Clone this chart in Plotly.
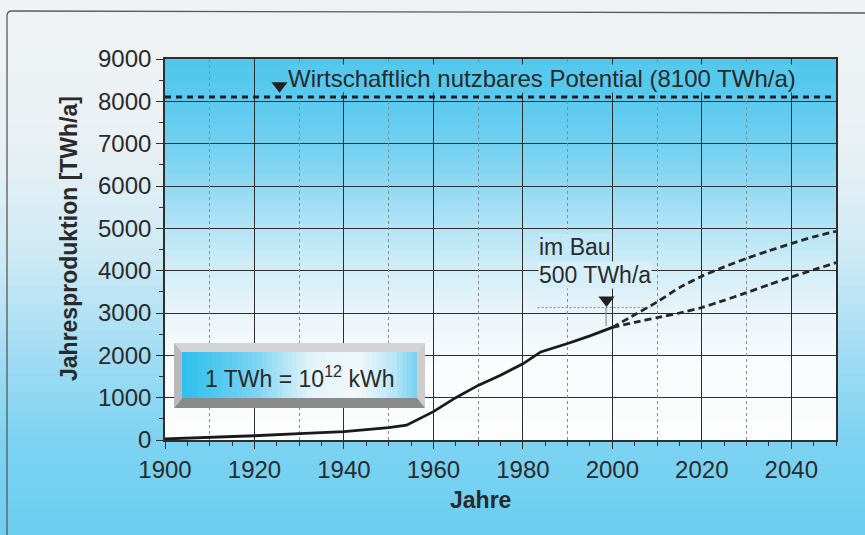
import plotly.graph_objects as go

# ---------------- data ----------------
years_hist = [1900, 1910, 1920, 1930, 1940, 1950, 1954, 1960, 1965, 1970, 1975, 1980, 1984, 1990, 1995, 2000]
prod_hist = [25, 55, 100, 150, 200, 290, 350, 670, 1000, 1290, 1530, 1800, 2080, 2280, 2460, 2660]

years_high = [2000, 2005, 2010, 2015, 2020, 2025, 2030, 2035, 2040, 2045, 2050]
prod_high = [2660, 2960, 3260, 3600, 3870, 4090, 4290, 4470, 4640, 4800, 4930]

years_low = [2000, 2005, 2010, 2015, 2020, 2025, 2030, 2035, 2040, 2045, 2050]
prod_low = [2660, 2780, 2890, 3000, 3130, 3300, 3480, 3670, 3850, 4020, 4190]

potential_years = [1900, 2050]
potential_value = [8100, 8100]

marker_years = [1925.6, 1998.7]
marker_values = [8370, 3310]

bau_ref_years = [1983.3, 2008.5]
bau_ref_values = [3130, 3130]
bau_drop_years = [1998.6, 1998.6]
bau_drop_values = [3130, 2690]

potential_label = "Wirtschaftlich nutzbares Potential (8100 TWh/a)"
bau_label_1 = "im Bau"
bau_label_2 = "500 TWh/a"
unit_label = "1 TWh = 10<sup>12</sup> kWh"
x_title = "Jahre"
y_title = "Jahresproduktion [TWh/a]"

# ---------------- styling helpers ----------------
W, H = 865, 535
ML, MR, MT, MB = 165, 29, 59, 95
PW, PH = W - ML - MR, H - MT - MB
FONT = "Liberation Sans, Arial, Helvetica, sans-serif"
TXT = "#2a2a2a"
GRID = "#2e2e2e"


def P(px, py):
    """pixel position on the page -> paper (plot-area relative) coordinates"""
    return (px - ML) / PW, (H - MB - py) / PH


def interp(stops, t):
    if t <= stops[0][0]:
        return stops[0][1]
    for (p0, c0), (p1, c1) in zip(stops[:-1], stops[1:]):
        if p0 <= t <= p1:
            f = (t - p0) / (p1 - p0) if p1 > p0 else 0
            return tuple(round(a + (b - a) * f) for a, b in zip(c0, c1))
    return stops[-1][1]


def rgb(c):
    return "rgb(%d,%d,%d)" % c


# page background (by pixel row from top)
paper_stops = [(0, (240, 242, 243)), (140, (234, 241, 244)), (260, (205, 233, 245)),
               (360, (160, 220, 243)), (440, (125, 211, 241)), (535, (108, 206, 240))]
# plot area background (by domain fraction from bottom)
plot_stops = [(0.0, (252, 253, 253)), (0.2, (250, 252, 253)), (0.32, (236, 246, 250)),
              (0.45, (210, 237, 248)), (0.58, (172, 225, 245)), (0.72, (128, 212, 241)),
              (0.86, (96, 203, 238)), (1.0, (80, 198, 236))]

shapes = []
N = 60
left, _ = P(0, 0)
right, _ = P(W, 0)
for i in range(N):
    pa = H * i / N
    pb = H * (i + 1) / N + 1
    _, ya = P(0, pa)
    _, yb = P(0, pb)
    shapes.append(dict(type="rect", xref="paper", yref="paper", x0=left, x1=right, y0=yb, y1=ya,
                       fillcolor=rgb(interp(paper_stops, (pa + pb) / 2)), line=dict(width=0),
                       layer="below"))
N2 = 60
for i in range(N2):
    y0 = i / N2
    y1 = (i + 1) / N2
    shapes.append(dict(type="rect", xref="x domain", yref="y domain", x0=0, x1=1, y0=y0,
                       y1=min(1, y1 + 0.003), fillcolor=rgb(interp(plot_stops, (y0 + y1) / 2)),
                       line=dict(width=0), layer="below"))


def path(points):
    s = ""
    for k, (px, py) in enumerate(points):
        x, y = P(px, py)
        s += ("M" if k == 0 else "L") + " %.5f %.5f " % (x, y)
    return s + "Z"


# frame line around the page
fx0, fy0 = P(7, 535)
fx1, fy1 = P(7, 16)
fqx, fqy = P(7, 11)
fx2, fy2 = P(12, 11)
fx3, fy3 = P(865, 13)
shapes.append(dict(type="path", xref="paper", yref="paper",
                   path="M %.5f %.5f L %.5f %.5f Q %.5f %.5f %.5f %.5f L %.5f %.5f" %
                   (fx0, fy0, fx1, fy1, fqx, fqy, fx2, fy2, fx3, fy3),
                   line=dict(color="#5a5a5a", width=1.3)))

# bevelled unit box
bx0, bx1, by0, by1 = 174, 425, 343, 408
ix0, ix1, iy0, iy1 = 182, 417, 352, 398
shapes.append(dict(type="path", xref="paper", yref="paper",
                   path=path([(bx0, by0), (bx1, by0), (ix1, iy0), (ix0, iy0)]),
                   fillcolor="#d4d4d4", line=dict(width=0)))
shapes.append(dict(type="path", xref="paper", yref="paper",
                   path=path([(bx1, by0), (bx1, by1), (ix1, iy1), (ix1, iy0)]),
                   fillcolor="#cdcdcd", line=dict(width=0)))
shapes.append(dict(type="path", xref="paper", yref="paper",
                   path=path([(bx0, by1), (bx1, by1), (ix1, iy1), (ix0, iy1)]),
                   fillcolor="#8a8a8a", line=dict(width=0)))
shapes.append(dict(type="path", xref="paper", yref="paper",
                   path=path([(bx0, by0), (ix0, iy0), (ix0, iy1), (bx0, by1)]),
                   fillcolor="#b9b9b9", line=dict(width=0)))
box_stops = [(0.0, (45, 190, 238)), (0.3, (118, 210, 242)), (0.55, (228, 244, 249)),
             (0.75, (240, 248, 251)), (0.9, (185, 230, 246)), (1.0, (118, 210, 242))]
NS = 47
for i in range(NS):
    xa = ix0 + (ix1 - ix0) * i / NS
    xb = ix0 + (ix1 - ix0) * (i + 1) / NS + 0.6
    shapes.append(dict(type="path", xref="paper", yref="paper",
                       path=path([(xa, iy0), (min(xb, ix1), iy0), (min(xb, ix1), iy1), (xa, iy1)]),
                       fillcolor=rgb(interp(box_stops, (i + 0.5) / NS)), line=dict(width=0)))

# ---------------- traces ----------------
fig = go.Figure()
fig.add_trace(go.Scatter(x=potential_years, y=potential_value, xaxis="x2", mode="lines",
                         line=dict(width=0), opacity=0, hoverinfo="skip", showlegend=False))
fig.add_trace(go.Scatter(x=bau_ref_years, y=bau_ref_values, mode="lines",
                         line=dict(color="#8a8a8a", width=1, dash="2px,2px"), showlegend=False))
fig.add_trace(go.Scatter(x=bau_drop_years, y=bau_drop_values, mode="lines",
                         line=dict(color="#7a7a7a", width=1), showlegend=False))
fig.add_trace(go.Scatter(x=potential_years, y=potential_value, mode="lines",
                         line=dict(color="#1e1e1e", width=3, dash="6px,5px"), showlegend=False,
                         cliponaxis=False))
fig.add_trace(go.Scatter(x=years_high, y=prod_high, mode="lines",
                         line=dict(color="#262626", width=2.8, dash="7px,4px", shape="spline",
                                   smoothing=0.6), showlegend=False))
fig.add_trace(go.Scatter(x=years_low, y=prod_low, mode="lines",
                         line=dict(color="#262626", width=2.8, dash="7px,4px", shape="spline",
                                   smoothing=0.6), showlegend=False))
fig.add_trace(go.Scatter(x=years_hist, y=prod_hist, mode="lines",
                         line=dict(color="#1a1a1a", width=2.8), showlegend=False))
fig.add_trace(go.Scatter(x=marker_years, y=marker_values, mode="markers",
                         marker=dict(symbol="triangle-down", size=14, color="#222222"),
                         showlegend=False, cliponaxis=False))


# ---------------- annotations ----------------
def bg_at(value):
    return rgb(interp(plot_stops, value / 9000))


annotations = [
    dict(x=1927.2, y=8197, xref="x", yref="y", text=potential_label, showarrow=False,
         xanchor="left", yanchor="bottom", font=dict(family=FONT, size=24, color=TXT),
         bgcolor=bg_at(8600), borderpad=0),
    dict(x=1983.3, y=4219, xref="x", yref="y", text=bau_label_1, showarrow=False,
         xanchor="left", yanchor="bottom", font=dict(family=FONT, size=23, color=TXT),
         bgcolor=bg_at(4500), borderpad=0),
    dict(x=1983.3, y=3574, xref="x", yref="y", text=bau_label_2, showarrow=False,
         xanchor="left", yanchor="bottom", font=dict(family=FONT, size=23, color=TXT),
         bgcolor=bg_at(3850), borderpad=0),
    dict(x=P(299.5, 0)[0], y=P(0, 377)[1], xref="paper", yref="paper", text=unit_label,
         showarrow=False, xanchor="center", yanchor="middle",
         font=dict(family=FONT, size=23, color=TXT)),
    dict(x=P(480, 0)[0], y=P(0, 500)[1], xref="paper", yref="paper", text="<b>%s</b>" % x_title,
         showarrow=False, xanchor="center", yanchor="middle",
         font=dict(family=FONT, size=23, color=TXT)),
    dict(x=P(69, 0)[0], y=P(0, 239)[1], xref="paper", yref="paper", text="<b>%s</b>" % y_title,
         showarrow=False, xanchor="center", yanchor="middle", textangle=-90,
         font=dict(family=FONT, size=23, color=TXT)),
]

axis_common = dict(showgrid=True, gridcolor=GRID, gridwidth=1.3, showline=True, linecolor=GRID,
                   linewidth=1.6, mirror=True, ticks="outside", ticklen=7, tickwidth=1.3,
                   tickcolor=GRID, zeroline=False, tickfont=dict(family=FONT, size=24, color=TXT))

fig.update_layout(
    width=W, height=H,
    margin=dict(l=ML, r=MR, t=MT, b=MB, pad=0),
    paper_bgcolor=rgb(paper_stops[0][1]),
    plot_bgcolor="rgba(0,0,0,0)",
    showlegend=False,
    shapes=shapes,
    annotations=annotations,
    xaxis=dict(range=[1900, 2050], tick0=1900, dtick=20,
               minor=dict(dtick=5, tick0=1900, ticks="outside", ticklen=4, tickcolor=GRID,
                          tickwidth=1.2, showgrid=False), **axis_common),
    xaxis2=dict(overlaying="x", matches="x", anchor="y", tick0=1910, dtick=20, showgrid=True,
                gridcolor="#8a8a8a", gridwidth=1, griddash="dot", showticklabels=False,
                ticks="", showline=False, zeroline=False),
    yaxis=dict(range=[0, 9000], tick0=0, dtick=1000,
               minor=dict(dtick=500, ticks="outside", ticklen=4, tickcolor=GRID, tickwidth=1.2,
                          showgrid=False), **axis_common),
)

fig.write_html("out.html", config={"displayModeBar": False},
               post_script="document.body.style.margin='0';")
